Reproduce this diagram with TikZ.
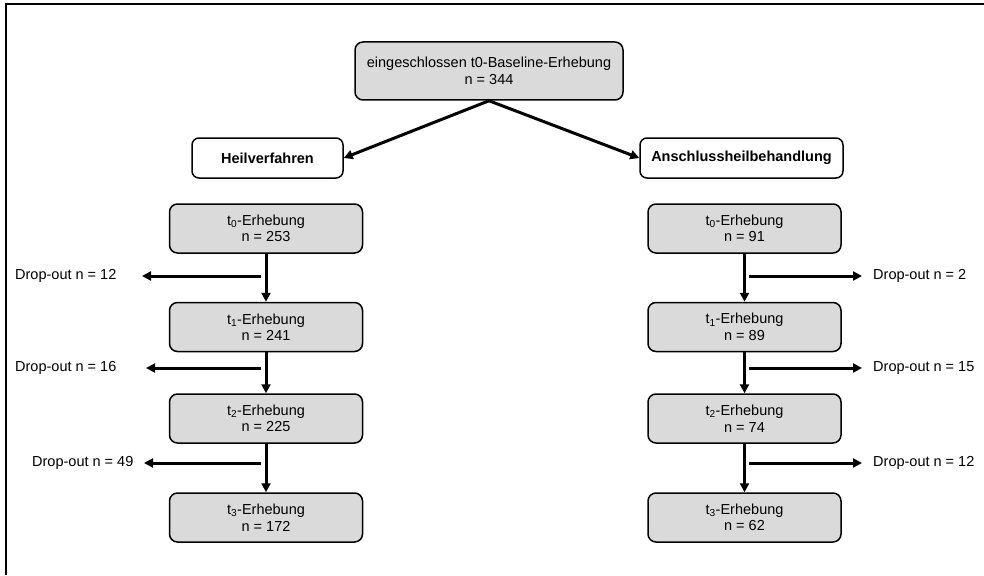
\documentclass[tikz,border=0pt]{standalone}
\usepackage{fontspec}
\setmainfont{Liberation Sans}
\usetikzlibrary{arrows.meta}
\begin{document}
\begin{tikzpicture}[x=1pt,y=-1pt,
  graybox/.style={draw=black, line width=1.5pt, fill=boxgray, rounded corners=8pt,
    minimum width=193pt, minimum height=49pt, align=center, font=\fontsize{14.5}{16.5}\selectfont, inner sep=0pt},
  whitebox/.style={draw=black, line width=1.5pt, fill=white, rounded corners=7pt,
    minimum height=40pt, align=center, font=\fontsize{14.5}{16.5}\selectfont\bfseries, inner sep=0pt},
  droplabel/.style={font=\fontsize{14.5}{16.5}\selectfont, inner sep=0pt},
  arr/.style={line width=3pt, -{Triangle[length=9pt,width=9pt]}}
]
\definecolor{boxgray}{HTML}{DADADA}
\useasboundingbox (0,0) rectangle (984,575);
\draw[line width=1.5pt] (6,575) -- (6,4) -- (984,4);

\node[graybox, minimum width=268pt, minimum height=58pt] (top) at (489,71) {eingeschlossen t0-Baseline-Erhebung\\n = 344};
\node[whitebox, minimum width=151pt] (hv) at (267.5,158) {Heilverfahren};
\node[whitebox, minimum width=203pt] (ahb) at (741.5,158) {Anschlussheilbehandlung};

\node[graybox] (l0) at (266,228.5) {t\textsubscript{0}-Erhebung\\n = 253};
\node[graybox] (l1) at (266,327) {t\textsubscript{1}-Erhebung\\n = 241};
\node[graybox] (l2) at (266,418.5) {t\textsubscript{2}-Erhebung\\n = 225};
\node[graybox] (l3) at (266,517.5) {t\textsubscript{3}-Erhebung\\n = 172};

\node[graybox] (r0) at (744.5,228.5) {t\textsubscript{0}-Erhebung\\n = 91};
\node[graybox] (r1) at (744.5,327) {t\textsubscript{1}-Erhebung\\n = 89};
\node[graybox] (r2) at (744.5,418.5) {t\textsubscript{2}-Erhebung\\n = 74};
\node[graybox] (r3) at (744.5,517.5) {t\textsubscript{3}-Erhebung\\n = 62};

\draw[arr] (top.south) -- (hv.east);
\draw[arr] (top.south) -- (ahb.west);

\foreach \a/\b in {l0/l1,l1/l2,l2/l3,r0/r1,r1/r2,r2/r3}
  \draw[arr] (\a.south) -- (\b.north);

% left drop-outs
\node[droplabel, anchor=west] (dl1) at (15,276) {Drop-out n = 12};
\node[droplabel, anchor=west] (dl2) at (15,368) {Drop-out n = 16};
\node[droplabel, anchor=west] (dl3) at (32,463) {Drop-out n = 49};
\coordinate (sl1) at (261,276); \coordinate (el1) at (142,276);
\coordinate (sl2) at (261,368); \coordinate (el2) at (146,368);
\coordinate (sl3) at (261,463); \coordinate (el3) at (144,463);
\draw[arr] (sl1) -- (el1);
\draw[arr] (sl2) -- (el2);
\draw[arr] (sl3) -- (el3);

% right drop-outs
\node[droplabel, anchor=west] (dr1) at (873,276) {Drop-out n = 2};
\node[droplabel, anchor=west] (dr2) at (873,368) {Drop-out n = 15};
\node[droplabel, anchor=west] (dr3) at (873,463) {Drop-out n = 12};
\coordinate (sr1) at (749,276);
\coordinate (sr2) at (749,368);
\coordinate (sr3) at (749,463);
\draw[arr] (sr1) -- (dr1.west -| 862,0);
\draw[arr] (sr2) -- (dr2.west -| 862,0);
\draw[arr] (sr3) -- (dr3.west -| 862,0);
\end{tikzpicture}
\end{document}
